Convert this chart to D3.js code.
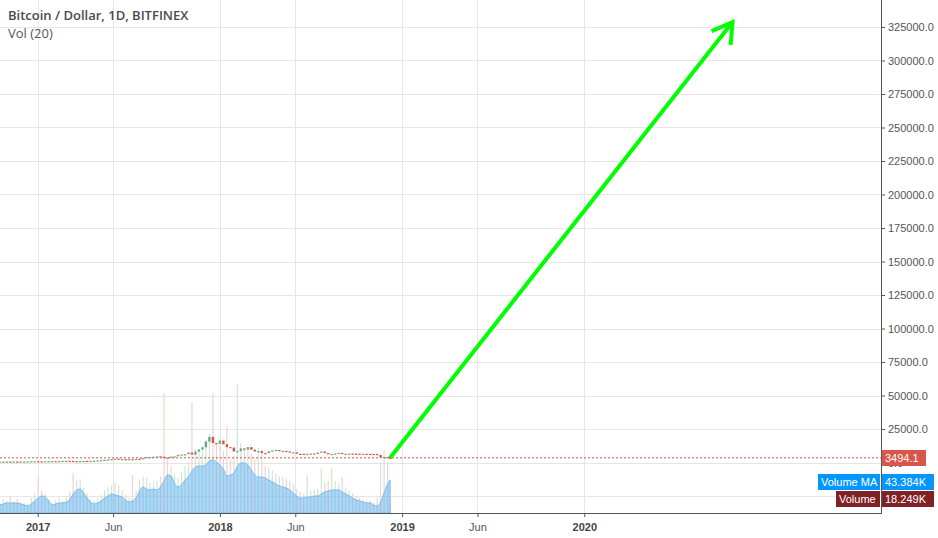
<!DOCTYPE html>
<html>
<head>
<meta charset="utf-8">
<script src="https://cdn.jsdelivr.net/npm/d3@7"></script>
<style>
  body { margin: 0; background: #fff; }
  svg { display: block; font-family: "Liberation Sans", Arial, sans-serif; }
</style>
</head>
<body>
<div id="chart"></div>
<script>
// weekly closes (USD), one per Monday starting firstWeek, then the last day
const firstWeek = "2016-10-17";
const lastDate = "2018-12-08";
const closes = [
  640, 700, 720, 705, 740, 735, 765, 770, 790, 895, 965,
  905, 825, 920, 920, 1015, 1000, 1050, 1185, 1275, 1230, 1020, 965, 1085,
  1190, 1180, 1235, 1350, 1560, 1760, 2060, 2190, 2550, 2900, 2490, 2560,
  2500, 2510, 1950, 2760, 2740, 3260, 4060, 4100, 4350, 4610, 4310, 3690,
  3650, 4390, 4610, 5700, 5990, 6140, 7390, 5900, 8030, 9710, 11300, 15600,
  19100, 14500, 13900,
  16400, 13600, 11500, 11150, 8250, 8550, 10450, 9650, 11450, 9550, 8200,
  8500, 7000, 6900, 8300, 8900, 9400, 8450, 8700, 8250, 7400, 7600, 6500,
  6480, 6210, 6400, 6730, 6350, 7400, 8200, 7040, 6300, 6400, 6700, 7200,
  6310, 6510, 6700, 6620, 6600, 6320, 6520, 6460, 6380, 6350, 5600, 4010,
  4120, 3600,
  3494.1
];
// volume MA(20), thousands
const volMA = [
  10.5, 11.9, 13.2, 13.2, 13.2, 13.2, 11.9, 10.5, 9.2, 11.9, 15.8,
  19.8, 22.4, 21.1, 15.8, 10.5, 11.9, 13.2, 13.2, 14.5, 17.1, 25.0, 30.3, 31.6,
  26.4, 19.8, 14.5, 11.9, 13.2, 15.8, 19.8, 22.4, 25.0, 23.7, 22.4, 21.1,
  17.1, 14.5, 15.8, 19.8, 29.0, 34.3, 31.6, 30.3, 31.6, 30.3, 34.3, 42.2,
  50.1, 48.8, 39.5, 34.3, 36.9, 43.5, 47.4, 55.4, 60.6, 61.9, 61.9, 63.3,
  68.5, 69.9, 67.2,
  63.3, 58.0, 48.8, 50.1, 52.7, 61.9, 65.9, 65.9, 63.3, 56.7, 50.1,
  47.4, 47.4, 46.1, 43.5, 40.9, 38.2, 35.6, 34.3, 33.0, 30.3, 26.4, 22.4,
  19.8, 19.8, 21.1, 21.1, 22.4, 22.4, 25.0, 27.7, 29.0, 30.3, 30.3, 30.3,
  27.7, 25.0, 22.4, 19.8, 17.1, 15.8, 14.5, 13.2, 13.2, 10.5, 9.2, 14.5,
  26.4, 38.2,
  43.384
];
// volume, thousands
const volumes = [
  14, 18, 16, 22, 15, 19, 14, 13, 12, 20, 26,
  46, 30, 25, 18, 14, 17, 20, 16, 22, 28, 53, 42, 44,
  33, 26, 18, 16, 20, 24, 30, 34, 36, 40, 36, 30,
  24, 20, 50, 30, 44, 48, 46, 40, 40, 42, 48, 158,
  70, 62, 52, 46, 54, 62, 68, 146, 84, 80, 88, 96,
  104, 158, 92,
  90, 82, 115, 70, 76, 170, 92, 86, 84, 78, 70,
  86, 83, 62, 60, 56, 52, 48, 47, 46, 42, 38, 32,
  28, 26, 50, 30, 30, 32, 59, 40, 42, 59, 42, 40,
  47, 34, 30, 26, 22, 20, 18, 17, 16, 14, 20, 67,
  83, 67,
  18.249
];

const priceTicks = [0, 25000, 50000, 75000, 100000, 125000, 150000, 175000,
  200000, 225000, 250000, 275000, 300000, 325000];
const gridPrices = [-25000].concat(priceTicks);
const timeTicks = ["2017-01-01", "2017-06-01", "2018-01-01", "2018-06-01",
  "2019-01-01", "2019-06-01", "2020-01-01"];
const timeTickLabels = ["2017", "Jun", "2018", "Jun", "2019", "Jun", "2020"];

const arrowFrom = { date: "2018-12-08", price: 3494.1 };
const arrowTo = { date: "2020-10-24", price: 328700 };

const W = 938, H = 538;
const plotRight = 881, plotBottom = 513;

const parse = d3.utcParse("%Y-%m-%d");
const dates = d3.utcMonday.range(parse(firstWeek), parse(lastDate)).concat([parse(lastDate)]);
const rows = dates.map((d, i) => ({
  date: d,
  open: i ? closes[i - 1] : closes[0],
  close: closes[i],
  ma: volMA[i],
  vol: volumes[i]
}));

const svg = d3.select("#chart").append("svg")
  .attr("width", W).attr("height", H);

// scales
const x = d3.scaleUtc()
  .domain([parse("2017-01-01"), parse("2020-01-01")])
  .range([37.7, 584.3]);
const y = d3.scaleLinear()
  .domain([0, 325000])
  .range([462.5, 27]);
const yVol = d3.scaleLinear()
  .domain([0, 170])
  .range([plotBottom, 384]);

// grid
svg.append("g").attr("class", "grid")
  .selectAll("line.h").data(gridPrices).enter().append("line")
  .attr("x1", 0).attr("x2", plotRight)
  .attr("y1", d => Math.round(y(d)) + 0.5).attr("y2", d => Math.round(y(d)) + 0.5)
  .attr("stroke", "#e6e6e6");
svg.append("g").attr("class", "grid")
  .selectAll("line.v").data(timeTicks).enter().append("line")
  .attr("x1", d => Math.round(x(parse(d))) + 0.5).attr("x2", d => Math.round(x(parse(d))) + 0.5)
  .attr("y1", 0).attr("y2", plotBottom)
  .attr("stroke", "#e6e6e6");

// volume bars
svg.append("g")
  .selectAll("rect").data(rows).enter().append("rect")
  .attr("x", d => x(d.date) - 0.6)
  .attr("width", 1.2)
  .attr("y", d => yVol(d.vol))
  .attr("height", d => plotBottom - yVol(d.vol))
  .attr("fill", d => d.close >= d.open ? "#cfe6d6" : "#efd3d1");

// volume MA area
svg.append("path")
  .datum(rows)
  .attr("fill", "rgba(90,175,240,0.5)")
  .attr("stroke", "#79bbf0")
  .attr("stroke-width", 1)
  .attr("d", d3.area()
    .x(d => x(d.date))
    .y0(plotBottom)
    .y1(d => yVol(d.ma))
    .curve(d3.curveMonotoneX));

// last price line
svg.append("line")
  .attr("x1", 0).attr("x2", plotRight)
  .attr("y1", y(arrowFrom.price)).attr("y2", y(arrowFrom.price))
  .attr("stroke", "#d75442")
  .attr("stroke-dasharray", "2,2");

// candles
const candle = svg.append("g")
  .selectAll("rect").data(rows).enter().append("rect")
  .attr("x", d => x(d.date) - 1.2)
  .attr("width", 2.4)
  .attr("y", d => y(Math.max(d.open, d.close)))
  .attr("height", d => Math.max(1.2, Math.abs(y(d.open) - y(d.close))))
  .attr("fill", d => d.close >= d.open ? "#6ba583" : "#d75442");

// arrow
const ax0 = x(parse(arrowFrom.date)), ay0 = y(arrowFrom.price);
const ax1 = x(parse(arrowTo.date)), ay1 = y(arrowTo.price);
svg.append("line")
  .attr("x1", ax0).attr("y1", ay0).attr("x2", ax1).attr("y2", ay1)
  .attr("stroke", "#00ff00").attr("stroke-width", 4);
svg.append("path")
  .attr("d", `M${ax1 - 21},${ay1 + 9}L${ax1},${ay1}L${ax1 - 2},${ay1 + 23}`)
  .attr("fill", "none")
  .attr("stroke", "#00ff00").attr("stroke-width", 4)
  .attr("stroke-linejoin", "miter");

// right axis
const yAxis = svg.append("g")
  .attr("transform", `translate(${plotRight},0)`)
  .call(d3.axisRight(y).tickValues(priceTicks).tickSize(4).tickPadding(3)
    .tickFormat(d => d.toFixed(1)));
yAxis.select(".domain").remove();
yAxis.selectAll("line").attr("stroke", "#555");
yAxis.selectAll("text").attr("fill", "#555").style("font-size", "11px");

// bottom axis
const xAxis = svg.append("g")
  .attr("transform", `translate(0,${plotBottom})`)
  .call(d3.axisBottom(x).tickValues(timeTicks.map(parse)).tickSize(4).tickPadding(6)
    .tickFormat((d, i) => timeTickLabels[i]));
xAxis.select(".domain").remove();
xAxis.selectAll("line").attr("stroke", "#555");
xAxis.selectAll("text")
  .attr("fill", (d, i) => timeTickLabels[i] === "Jun" ? "#555" : "#444")
  .style("font-size", "11px")
  .style("font-weight", (d, i) => timeTickLabels[i] === "Jun" ? "normal" : "bold");

// frame lines
svg.append("line")
  .attr("x1", plotRight + 0.5).attr("x2", plotRight + 0.5)
  .attr("y1", 0).attr("y2", plotBottom + 1)
  .attr("stroke", "#555");
svg.append("line")
  .attr("x1", 0).attr("x2", plotRight + 1)
  .attr("y1", plotBottom + 0.5).attr("y2", plotBottom + 0.5)
  .attr("stroke", "#555");

// value labels on the axis
function tag(xl, w, yc, bg, txt) {
  svg.append("rect")
    .attr("x", xl).attr("y", Math.round(yc) - 8)
    .attr("width", w).attr("height", 16)
    .attr("fill", bg);
  svg.append("text")
    .attr("x", xl + 3).attr("y", Math.round(yc) + 4)
    .attr("fill", "#fff")
    .style("font-size", "11px")
    .text(txt);
}
tag(plotRight + 1, 44, y(arrowFrom.price), "#d9574a", "3494.1");
tag(818, 62, yVol(volMA[volMA.length - 1]) + 2, "#0496ff", "Volume MA");
tag(plotRight + 1, 52, yVol(volMA[volMA.length - 1]) + 2, "#0496ff", d3.format(".3f")(volMA[volMA.length - 1]) + "K");
tag(836, 44, yVol(volumes[volumes.length - 1]), "#7f2125", "Volume");
tag(plotRight + 1, 52, yVol(volumes[volumes.length - 1]), "#7f2125", d3.format(".3f")(volumes[volumes.length - 1]) + "K");

// titles
svg.append("text")
  .attr("x", 8).attr("y", 20)
  .attr("fill", "#4a4a4a")
  .style("font-family", "'Open Sans', sans-serif")
  .style("font-size", "13px")
  .style("font-weight", 600)
  .text("Bitcoin / Dollar, 1D, BITFINEX");
svg.append("text")
  .attr("x", 8).attr("y", 38)
  .attr("fill", "#555")
  .style("font-family", "'Open Sans', sans-serif")
  .style("font-size", "13px")
  .text("Vol (20)");
</script>
</body>
</html>
